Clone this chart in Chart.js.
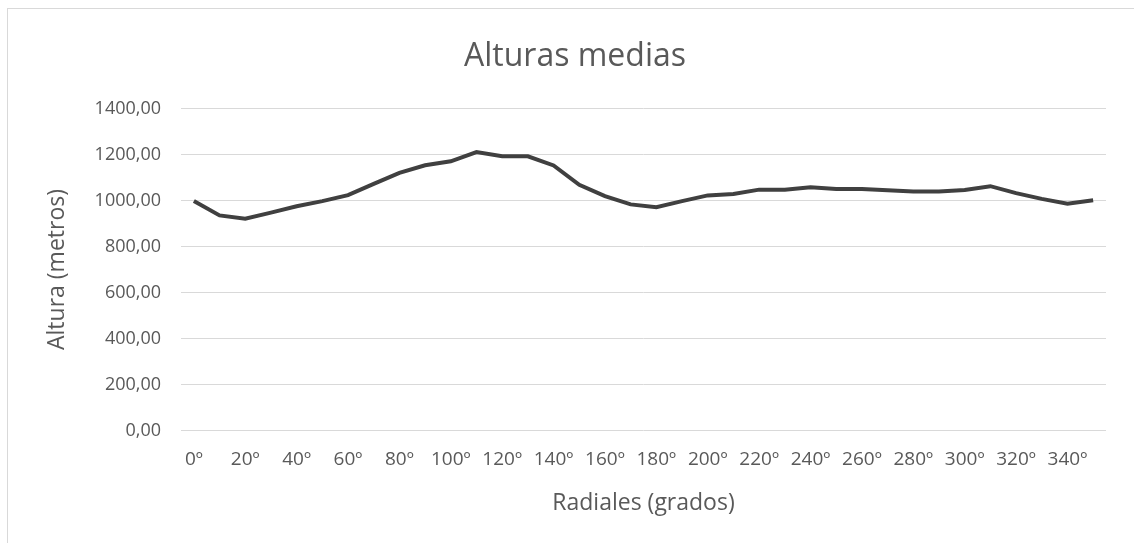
<!DOCTYPE html>
<html>
<head>
<meta charset="utf-8">
<script src="https://cdn.jsdelivr.net/npm/chart.js@4.4.0/dist/chart.umd.min.js"></script>
<style>
    html, body { margin: 0; padding: 0; background: #ffffff; }
    #frame {
        position: absolute; left: 7px; top: 8px; width: 1140px; height: 560px;
        border: 1px solid #d9d9d9; box-sizing: border-box;
    }
    #wrap { position: absolute; left: 0; top: 0; width: 1134px; height: 543px; }
</style>
</head>
<body>
<div id="frame"></div>
<div id="wrap"><canvas id="alturas-chart"></canvas></div>
<script>
// Radiales cada 10 grados
const radiales = ['0º', '10º', '20º', '30º', '40º', '50º', '60º', '70º', '80º', '90º',
    '100º', '110º', '120º', '130º', '140º', '150º', '160º', '170º', '180º', '190º',
    '200º', '210º', '220º', '230º', '240º', '250º', '260º', '270º', '280º', '290º',
    '300º', '310º', '320º', '330º', '340º', '350º'];

// Alturas medias (metros)
const alturas = [998, 935, 921, 947, 975, 997, 1023, 1072, 1120, 1153,
    1170, 1210, 1192, 1192, 1152, 1068, 1019, 983, 971, 997,
    1022, 1028, 1047, 1047, 1057, 1050, 1050, 1044, 1039, 1039,
    1045, 1062, 1032, 1007, 986, 1001];

const yTicks = [0, 200, 400, 600, 800, 1000, 1200, 1400];

const textColor = '#595959';
const fontFamily = "'Open Sans', 'Noto Sans', sans-serif";

document.addEventListener("DOMContentLoaded", function () {
    new Chart(document.getElementById('alturas-chart').getContext('2d'), {
        type: 'line',
        data: {
            labels: radiales,
            datasets: [{
                label: 'Alturas medias',
                data: alturas,
                borderColor: '#404040',
                borderWidth: 4,
                pointRadius: 0,
                tension: 0,
                fill: false
            }]
        },
        options: {
            responsive: true,
            maintainAspectRatio: false,
            animation: false,
            layout: {
                padding: { left: 44, right: 28, top: 38, bottom: 26 }
            },
            plugins: {
                legend: { display: false },
                tooltip: { enabled: false },
                title: {
                    display: true,
                    text: 'Alturas medias',
                    color: textColor,
                    font: { family: fontFamily, size: 32, weight: 'normal' },
                    padding: { top: 0, bottom: 32 }
                }
            },
            scales: {
                x: {
                    offset: true,
                    grid: { display: false, drawTicks: false },
                    border: { display: false },
                    ticks: {
                        color: textColor,
                        font: { family: fontFamily, size: 19 },
                        autoSkip: false,
                        maxRotation: 0,
                        padding: 18,
                        callback: function (value, index) {
                            return index % 2 === 0 ? radiales[index] : '';
                        }
                    },
                    title: {
                        display: true,
                        text: 'Radiales (grados)',
                        color: textColor,
                        font: { family: fontFamily, size: 23 },
                        padding: { top: 0, bottom: 0 }
                    }
                },
                y: {
                    min: 0,
                    max: 1400,
                    afterBuildTicks: function (axis) {
                        axis.ticks = yTicks.map(v => ({ value: v }));
                    },
                    grid: { color: '#d9d9d9', lineWidth: 1, drawTicks: false },
                    border: { display: false },
                    ticks: {
                        color: textColor,
                        font: { family: fontFamily, size: 18 },
                        padding: 20,
                        callback: function (value) {
                            return value.toFixed(2).replace('.', ',');
                        }
                    },
                    title: {
                        display: true,
                        text: 'Altura (metros)',
                        color: textColor,
                        font: { family: fontFamily, size: 23 },
                        padding: { top: 0, bottom: 3 }
                    }
                }
            }
        }
    });
});
</script>
</body>
</html>
